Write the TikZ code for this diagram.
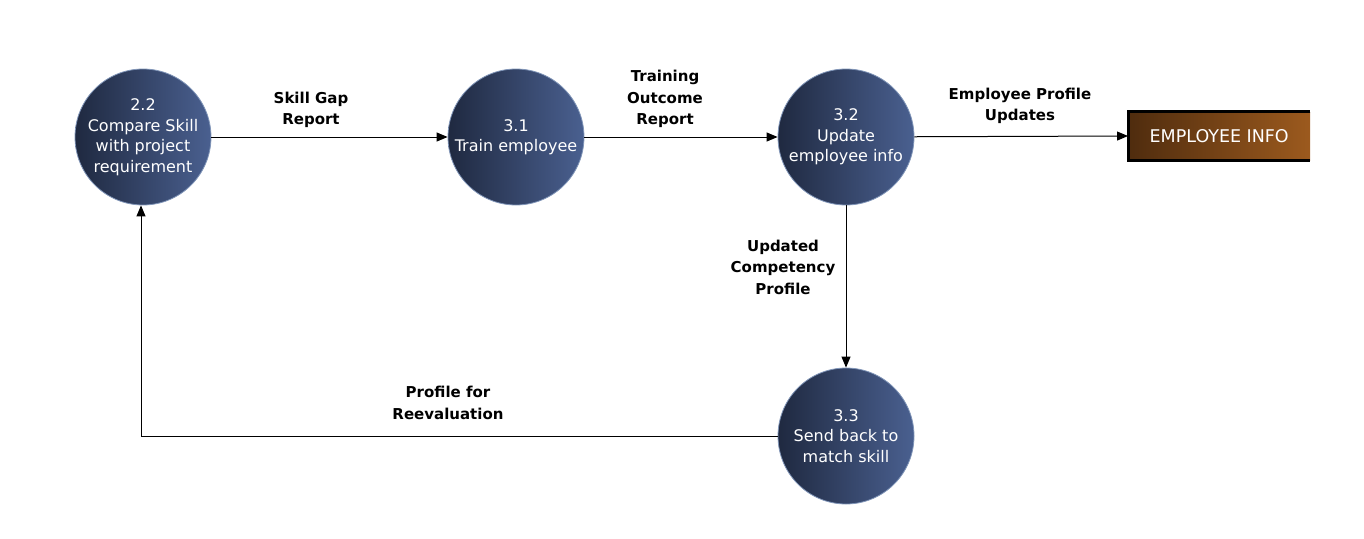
\documentclass[tikz,border=0pt]{standalone}
\usepackage{fontspec}
\setmainfont{DejaVu Sans}
\usetikzlibrary{arrows.meta}
\definecolor{navyL}{HTML}{1F2940}
\definecolor{navyR}{HTML}{4A6090}
\definecolor{rimc}{HTML}{8095B8}
\definecolor{brownL}{HTML}{4F2C0E}
\definecolor{brownR}{HTML}{9C5A1E}
\begin{document}
\begin{tikzpicture}[x=1pt,y=-1pt,
  proc/.style={circle,minimum size=136pt,inner sep=0pt,draw=rimc,line width=0.8pt,
    left color=navyL,right color=navyR,text=white,align=center,font=\fontsize{16}{20.5}\selectfont},
  flow/.style={-{Triangle[length=11pt,width=9pt]},line width=1pt},
  lbl/.style={align=center,font=\bfseries\fontsize{15}{21.5}\selectfont,inner sep=1pt}]
\useasboundingbox (0,0) rectangle (1364,538);
\node[proc] (p22) at (143,137) {2.2\\Compare Skill\\with project\\requirement};
\node[proc] (p31) at (516,137) {3.1\\Train employee};
\node[proc] (p32) at (846,137) {3.2\\Update\\employee info};
\node[proc] (p33) at (846,436) {3.3\\Send back to\\match skill};
\node[minimum width=182pt,minimum height=48pt,inner sep=0pt,left color=brownL,right color=brownR,
  text=white,font=\fontsize{17.5}{20}\selectfont,anchor=west] (emp) at (1128,136) {EMPLOYEE INFO};
\draw[line width=3pt] (emp.north east) -- (emp.north west) -- (emp.south west) -- (emp.south east);
\coordinate (corner) at (141,436);
\draw[flow] (p22) -- (p31);
\draw[flow] (p31) -- (p32);
\draw[flow] (p32) -- (emp.west);
\draw[flow] (p32) -- (p33);
\draw[flow] (p33.west) -- (corner) -- (p22.south -| corner);
\node[lbl] at (311,110) {Skill Gap\\Report};
\node[lbl] at (665,99) {Training\\Outcome\\Report};
\node[lbl] at (1020,106) {Employee Profile\\Updates};
\node[lbl,fill=white] at (783,267) {Updated\\Competency\\Profile};
\node[lbl] at (448,403) {Profile for\\Reevaluation};
\end{tikzpicture}
\end{document}
